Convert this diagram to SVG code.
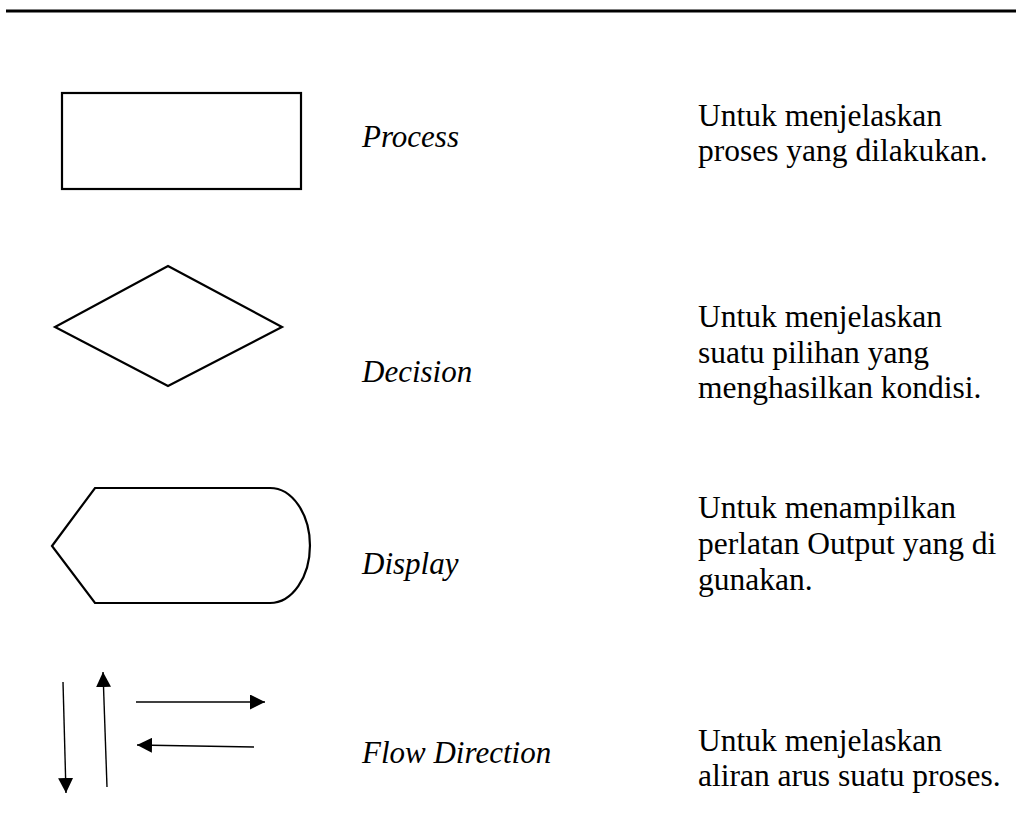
<svg xmlns="http://www.w3.org/2000/svg" width="1016" height="829" viewBox="0 0 1016 829">
  <style>
    .shape { fill: #ffffff; stroke: #000000; stroke-width: 2.2; stroke-linejoin: miter; }
    .flow { stroke: #000000; stroke-width: 1.4; fill: none; }
    .label { font-family: "Liberation Serif", "Times New Roman", serif; font-size: 31px; font-style: italic; fill: #000000; }
    .desc { font-family: "Liberation Serif", "Times New Roman", serif; font-size: 31.5px; fill: #000000; }
  </style>
  <defs>
    <marker id="head" viewBox="0 0 15 15" refX="15" refY="7.5" markerWidth="15" markerHeight="15" markerUnits="userSpaceOnUse" orient="auto">
      <path d="M0,0 L15,7.5 L0,15 z" fill="#000000"/>
    </marker>
  </defs>

  <rect width="1016" height="829" fill="#ffffff"/>

  <!-- header rule -->
  <line x1="6" y1="11" x2="1016" y2="11" stroke="#000000" stroke-width="2.8"/>

  <!-- Process -->
  <g id="process">
    <rect class="shape" x="62" y="93" width="239" height="96"/>
    <text class="label" x="362" y="147">Process</text>
    <text class="desc" x="698" y="126">Untuk menjelaskan</text>
    <text class="desc" x="698" y="161">proses yang dilakukan.</text>
  </g>

  <!-- Decision -->
  <g id="decision">
    <polygon class="shape" points="168,266 282,327 168,386 55,327"/>
    <text class="label" x="362" y="382">Decision</text>
    <text class="desc" x="698" y="327">Untuk menjelaskan</text>
    <text class="desc" x="698" y="363">suatu pilihan yang</text>
    <text class="desc" x="698" y="398">menghasilkan kondisi.</text>
  </g>

  <!-- Display -->
  <g id="display">
    <path class="shape" d="M52,546 L95,488 L270,488 A40,57.5 0 0 1 270,603 L95,603 Z"/>
    <text class="label" x="362" y="574">Display</text>
    <text class="desc" x="698" y="518">Untuk menampilkan</text>
    <text class="desc" x="698" y="554">perlatan Output yang di</text>
    <text class="desc" x="698" y="590">gunakan.</text>
  </g>

  <!-- Flow Direction -->
  <g id="flow-direction">
    <text class="label" x="362" y="763">Flow Direction</text>
    <text class="desc" x="698" y="751">Untuk menjelaskan</text>
    <text class="desc" x="698" y="786">aliran arus suatu proses.</text>
  </g>

  <!-- flow arrows -->
  <g id="connectors">
    <line class="flow" x1="63" y1="682" x2="66" y2="793" marker-end="url(#head)"/>
    <line class="flow" x1="107" y1="787" x2="103" y2="672" marker-end="url(#head)"/>
    <line class="flow" x1="136" y1="702" x2="265" y2="702" marker-end="url(#head)"/>
    <line class="flow" x1="254" y1="747" x2="137" y2="745" marker-end="url(#head)"/>
  </g>
</svg>
